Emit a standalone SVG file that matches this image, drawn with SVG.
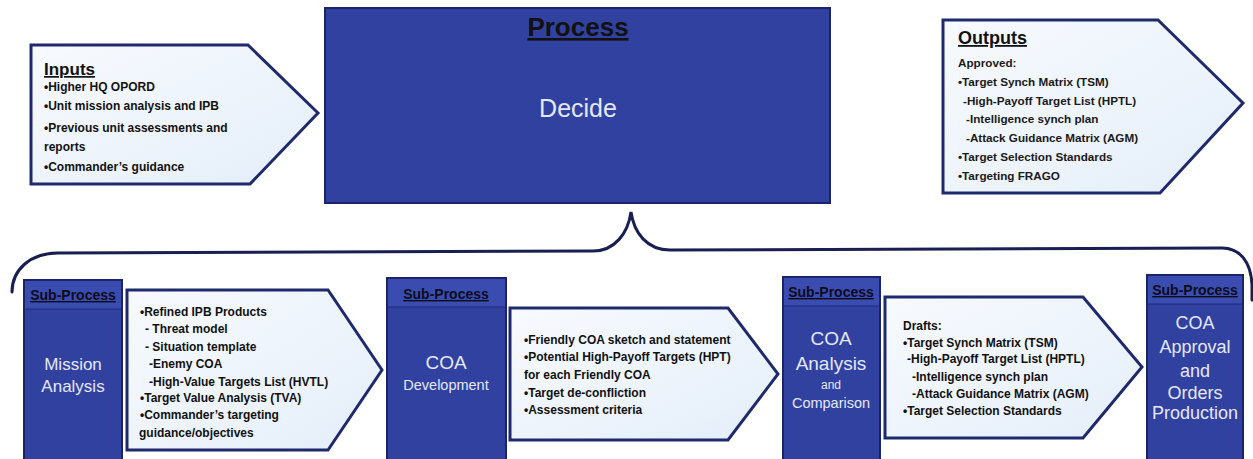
<svg xmlns="http://www.w3.org/2000/svg" width="1253" height="459" viewBox="0 0 1253 459">
<defs>
<linearGradient id="pg" x1="0" y1="0" x2="1" y2="1">
<stop offset="0" stop-color="#f7fafe"/>
<stop offset="1" stop-color="#e4eef9"/>
</linearGradient>
<style>
.pent{fill:url(#pg);stroke:#1f2a6c;stroke-width:3;stroke-linejoin:miter}
.box{fill:#31419f;stroke:#1b2466;stroke-width:2}
.hdr{fill:#3a4cb0}
.sep{stroke:#1f2a7a;stroke-width:1}
.t{font-family:"Liberation Sans",Arial,sans-serif;font-size:12px;font-weight:bold;fill:#111}
.to{font-family:"Liberation Sans",Arial,sans-serif;font-size:11.7px;font-weight:bold;fill:#1a1a1a}
.ttl{font-family:"Liberation Sans",Arial,sans-serif;font-weight:bold;fill:#111;text-decoration:underline}
.sh{font-family:"Liberation Sans",Arial,sans-serif;font-weight:bold;font-size:14px;fill:#0d0d1a;text-decoration:underline;text-anchor:middle}
.w{font-family:"Liberation Sans",Arial,sans-serif;fill:#e4e8f8;text-anchor:middle}
.brace{fill:none;stroke:#1a1f52;stroke-width:3;stroke-linecap:round}
</style>
</defs>
<rect width="1253" height="459" fill="#ffffff"/>

<g id="connectors">
<path class="brace" d="M12,292 C12,270 30,253 58,253 L593,251 C615,251 628,233 631,212 C634,233 647,250 670,250 L1222,248 C1240,248 1251,262 1252,285 L1252,300"/>
</g>

<g id="inputs">
<path class="pent" d="M31,45 L248,45 L318,113 L250,184 L31,184 Z"/>
<text class="ttl" x="44" y="75" font-size="17">Inputs</text>
<text class="t" x="44" y="91">•Higher HQ OPORD</text>
<text class="t" x="44" y="110">•Unit mission analysis and IPB</text>
<text class="t" x="44" y="132">•Previous unit assessments  and</text>
<text class="t" x="44" y="151">reports</text>
<text class="t" x="44" y="171">•Commander’s guidance</text>
</g>

<g id="process">
<rect class="box" x="325" y="8" width="505" height="195" fill="#34459f"/>
<text class="ttl" x="578" y="36" font-size="26" text-anchor="middle">Process</text>
<text class="w" x="578" y="117" font-size="25">Decide</text>
</g>

<g id="outputs">
<path class="pent" d="M943,20 L1158,20 L1243,103 L1160,193 L943,193 Z"/>
<text class="ttl" x="958" y="44" font-size="18">Outputs</text>
<text class="to" x="958" y="67">Approved:</text>
<text class="to" x="958" y="86">•Target Synch Matrix (TSM)</text>
<text class="to" x="963" y="105">-High-Payoff Target List (HPTL)</text>
<text class="to" x="966" y="123">-Intelligence  synch plan</text>
<text class="to" x="966" y="142">-Attack Guidance Matrix (AGM)</text>
<text class="to" x="958" y="161">•Target Selection  Standards</text>
<text class="to" x="958" y="180">•Targeting FRAGO</text>
</g>

<g id="mission-analysis">
<rect class="box" x="24" y="280" width="98" height="190"/>
<rect class="hdr" x="25" y="281" width="96" height="28"/>
<line class="sep" x1="25" y1="309" x2="121" y2="309"/>
<text class="sh" x="73" y="300">Sub-Process</text>
<text class="w" x="73" y="370" font-size="17">Mission</text>
<text class="w" x="73" y="392" font-size="17">Analysis</text>
</g>

<g id="ma-products">
<path class="pent" d="M127,290 L328,290 L382,370 L328,450 L127,450 Z"/>
<text class="t" x="140" y="316">•Refined IPB Products</text>
<text class="t" x="145" y="333">- Threat model</text>
<text class="t" x="145" y="351">- Situation template</text>
<text class="t" x="149" y="368">-Enemy COA</text>
<text class="t" x="149" y="386">-High-Value Targets List (HVTL)</text>
<text class="t" x="140" y="402">•Target Value Analysis (TVA)</text>
<text class="t" x="140" y="419">•Commander’s targeting</text>
<text class="t" x="139" y="437">guidance/objectives</text>
</g>

<g id="coa-development">
<rect class="box" x="387" y="278" width="119" height="192"/>
<rect class="hdr" x="388" y="279" width="117" height="28"/>
<line class="sep" x1="388" y1="307" x2="505" y2="307"/>
<text class="sh" x="446" y="299">Sub-Process</text>
<text class="w" x="446" y="369" font-size="19">COA</text>
<text class="w" x="446" y="390" font-size="14.5">Development</text>
</g>

<g id="coa-dev-products">
<path class="pent" d="M510,308 L728,308 L778,374 L728,440 L510,440 Z"/>
<text class="t" x="524" y="344">•Friendly COA sketch  and statement</text>
<text class="t" x="524" y="361">•Potential High-Payoff Targets (HPT)</text>
<text class="t" x="524" y="379">for each Friendly COA</text>
<text class="t" x="524" y="397">•Target de-confliction</text>
<text class="t" x="524" y="414">•Assessment criteria</text>
</g>

<g id="coa-analysis">
<rect class="box" x="783" y="277" width="97" height="193"/>
<rect class="hdr" x="784" y="278" width="95" height="28"/>
<line class="sep" x1="784" y1="306" x2="879" y2="306"/>
<text class="sh" x="831" y="297">Sub-Process</text>
<text class="w" x="831" y="345" font-size="19">COA</text>
<text class="w" x="831" y="370" font-size="19">Analysis</text>
<text class="w" x="831" y="389" font-size="12">and</text>
<text class="w" x="831" y="408" font-size="14.5">Comparison</text>
</g>

<g id="coa-analysis-products">
<path class="pent" d="M885,297 L1083,297 L1142,367 L1083,438 L885,438 Z"/>
<text class="t" x="903" y="330">Drafts:</text>
<text class="t" x="903" y="347">•Target Synch Matrix (TSM)</text>
<text class="t" x="907" y="363">-High-Payoff Target List (HPTL)</text>
<text class="t" x="912" y="381">-Intelligence synch plan</text>
<text class="t" x="912" y="398">-Attack Guidance Matrix (AGM)</text>
<text class="t" x="903" y="415">•Target Selection Standards</text>
</g>

<g id="coa-approval">
<rect class="box" x="1147" y="275" width="96" height="195"/>
<rect class="hdr" x="1148" y="276" width="94" height="28"/>
<line class="sep" x1="1148" y1="304" x2="1242" y2="304"/>
<text class="sh" x="1195" y="295">Sub-Process</text>
<text class="w" x="1195" y="329" font-size="18">COA</text>
<text class="w" x="1195" y="353" font-size="18">Approval</text>
<text class="w" x="1195" y="377" font-size="18">and</text>
<text class="w" x="1195" y="399" font-size="18">Orders</text>
<text class="w" x="1195" y="419" font-size="18">Production</text>
</g>
</svg>
